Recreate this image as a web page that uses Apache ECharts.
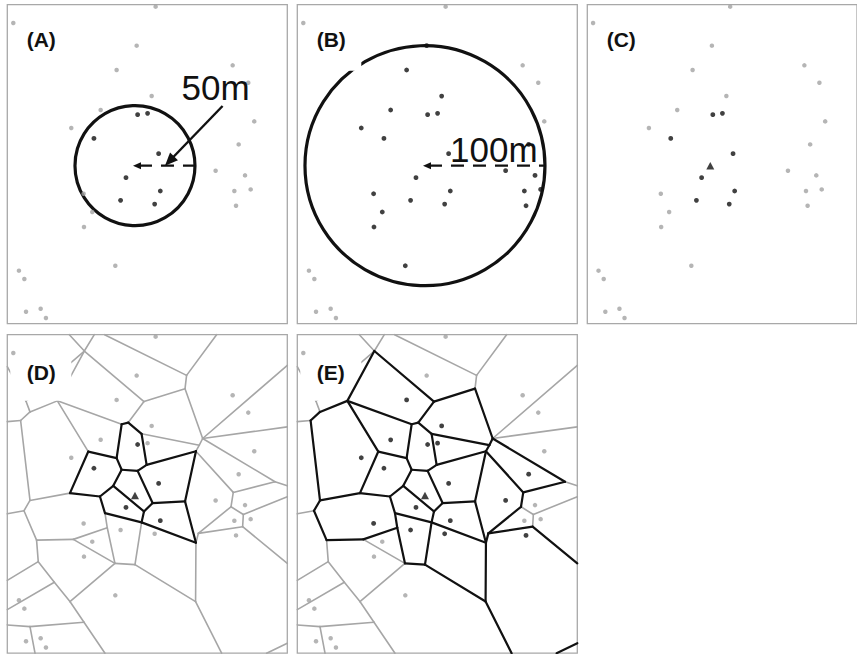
<!DOCTYPE html>
<html><head><meta charset="utf-8">
<script src="https://cdn.jsdelivr.net/npm/echarts@6/dist/echarts.min.js"></script>
<style>html,body{margin:0;padding:0;background:#fff}#c{width:857px;height:654px}</style>
</head><body><div id="c"></div>
<script>
// ---- data (metres; x to the right, y upward; panel extent 233.3 x 265.8 m) ----
const pointX = [108.6,116.9,72.2,126.1,98.9,127.5,94.4,122.8,
  5.0,123.6,107.8,91.1,187.8,200.8,120.3,77.8,53.3,205.8,192.8,173.6,198.1,189.2,202.8,190.6,
  63.6,70.8,63.9,90.0,9.7,14.2,15.6,27.8,32.2];
const pointY = [174.2,175.3,154.4,141.7,121.7,110.6,102.8,99.7,
  250.6,264.2,231.7,211.4,215.3,200.8,189.7,178.1,163.1,168.6,149.4,127.5,123.6,110.6,111.9,98.3,
  108.3,93.1,80.6,48.3,44.2,37.2,10.0,12.5,4.7];
const focalXY = [106.4, 131.7];
const FOCAL_ID = 33;

const within50 = [0,1,2,3,4,5,6,7];
const within100 = [0,1,2,3,4,5,6,7,10,11,14,15,16,18,19,20,21,22,23,24,25,26,27];
const nearest8 = [0,1,2,3,4,5,6,7];
const voronoiOrder1 = [0,2,3,4,5];
const voronoiOrder2 = [0,1,2,3,4,5,6,7,11,14,15,16,18,19,23,24];
const radiusA = 50, radiusB = 100;
const labelA = '50m', labelB = '100m';
const panelLabels = ['(A)','(B)','(C)','(D)','(E)'];
const pointerTail = [179.4, 181.4];

// Voronoi tessellation vertices (metres)
const vertexX = [64.2,51.7,72.5,113.9,41.7,81.1,149.4,174.4,148.1,162.8,233.33,233.33,223.1,160.0,157.2,111.9,100.8,95.3,91.1,67.5,
  95.3,108.6,116.1,121.1,148.1,188.3,233.33,186.4,196.7,233.33,196.1,233.33,159.2,157.2,156.9,178.6,233.33,216.1,113.9,88.3,
  111.9,81.4,77.2,52.2,83.3,106.4,89.7,55.0,18.9,13.9,0,24.4,25.8,0,52.2,39.2,0,81.4,63.9,18.9,0,23.1,18.9,15.6,0,11.1,0];
const vertexY = [252.2,265.83,265.83,210.0,210.6,265.83,231.9,265.83,220.8,179.2,240.3,188.9,143.1,173.6,168.6,183.1,192.5,191.1,162.8,168.3,
  153.1,152.2,157.2,125.3,126.7,134.2,139.7,122.2,115.8,130.6,105.6,75.0,100.0,92.2,43.1,0,8.3,0,118.3,139.7,
  109.2,116.9,130.8,133.6,104.7,73.9,75.0,95.0,127.5,118.9,116.4,94.4,76.4,60.8,43.1,59.2,36.4,0,25.8,22.2,23.6,0,201.4,210.3,239.2,194.2,193.3];
// edges: vertex pair + the two sites they separate (-1 = site not shown, 33 = focal)
const edgeFrom = [0,0,0,0,0,5,6,6,3,8,9,9,9,9,13,13,14,14,14,12,12,25,27,28,28,27,30,30,32,24,33,34,36,33,24,23,23,38,40,40,38,39,39,20,21,22,15,16,16,17,17,18,18,19,19,43,42,41,44,44,46,45,47,46,47,43,48,48,49,49,51,52,52,55,55,54,58,58,59,59,4,62,63,62,65];
const edgeTo   = [1,2,3,4,63,6,7,8,8,9,10,11,12,13,15,14,22,24,25,25,26,27,28,29,30,32,32,31,33,33,34,35,37,40,23,21,38,40,41,45,39,20,42,21,22,15,16,3,17,4,18,20,19,4,43,42,41,44,46,47,45,34,46,54,51,48,65,49,50,51,52,53,55,54,56,58,57,59,60,61,62,63,64,65,66];
const edgeSiteA = [8,-1,10,-1,8,9,9,10,10,14,12,13,17,14,14,1,1,3,18,18,17,19,20,20,21,19,21,22,19,19,7,27,23,5,3,33,33,4,4,6,33,33,2,33,0,0,0,11,0,11,0,0,15,15,16,2,4,24,25,24,6,7,25,26,24,16,-1,-1,-1,-1,-1,-1,26,26,28,29,31,29,29,30,-1,-1,8,-1,-1];
const edgeSiteB = [-1,10,11,11,-1,10,12,12,14,12,13,17,18,18,1,18,3,19,19,20,20,20,21,22,22,21,23,23,23,5,23,23,-1,7,5,3,5,5,6,7,4,2,4,0,3,1,14,14,11,15,15,2,2,16,2,24,24,6,6,25,27,27,26,27,26,24,16,24,-1,24,26,28,28,29,29,27,27,31,30,31,16,-1,-1,16,-1];

// ---- layout ----
const X_MAX = 233.33, Y_MAX = 265.83;
const panels = [
  {left:7.3, top:4.7, w:280, h:319},
  {left:297.3, top:4.7, w:280, h:319},
  {left:587.3, top:4.7, w:280, h:319},
  {left:7.3, top:334.7, w:280, h:318.5},
  {left:297.3, top:334.7, w:280, h:318.5}
];
const GRAY = '#a3a3a3', BLACK = '#111111';
const FONT = '"Liberation Sans", Arial, sans-serif';

const grid = panels.map(p => ({left:p.left, top:p.top, width:p.w, height:p.h, show:true,
  borderColor:'#a8a8a8', borderWidth:1.3, backgroundColor:'transparent'}));
const xAxis = panels.map((p,i) => ({gridIndex:i, type:'value', min:0, max:X_MAX, show:false}));
const yAxis = panels.map((p,i) => ({gridIndex:i, type:'value', min:0, max:Y_MAX, show:false}));

const series = [];
function pts(ids){ return ids.map(i => [pointX[i], pointY[i]]); }
function allBut(ids){ const s = new Set(ids); return pointX.map((_,i)=>i).filter(i=>!s.has(i)); }
function dots(idx, ids, color, size){
  series.push({type:'scatter', xAxisIndex:idx, yAxisIndex:idx, data:pts(ids), symbol:'circle',
    symbolSize:size, itemStyle:{color:color}, z:5, silent:true, animation:false});
}
function triangle(idx){
  series.push({type:'scatter', xAxisIndex:idx, yAxisIndex:idx, data:[focalXY], symbol:'triangle',
    symbolSize:[8,7.5], itemStyle:{color:BLACK}, z:6, silent:true, animation:false});
}
function circle(idx, r){
  series.push({type:'custom', xAxisIndex:idx, yAxisIndex:idx, data:[[focalXY[0], focalXY[1], r]], z:2, silent:true, animation:false,
    renderItem:(params, api) => {
      const c = api.coord([api.value(0), api.value(1)]);
      const rr = api.size([api.value(2), 0])[0];
      return {type:'circle', shape:{cx:c[0], cy:c[1], r:rr}, style:{fill:'none', stroke:BLACK, lineWidth:3.2}};
    }});
}
function radiusLine(idx, r){
  series.push({type:'custom', xAxisIndex:idx, yAxisIndex:idx, data:[[focalXY[0], focalXY[1], focalXY[0]+r, focalXY[1]]], z:5, silent:true, animation:false,
    renderItem:(params, api) => {
      const a = api.coord([api.value(0), api.value(1)]);
      const b = api.coord([api.value(2), api.value(3)]);
      return {type:'group', children:[
        {type:'line', shape:{x1:a[0]+4, y1:a[1], x2:b[0], y2:b[1]}, style:{stroke:BLACK, lineWidth:2.2, lineDash:[13,9]}},
        {type:'polygon', shape:{points:[[a[0]-2, a[1]], [a[0]+6, a[1]-3.5], [a[0]+6, a[1]+3.5]]}, style:{fill:BLACK}}
      ]};
    }});
}
function pointer(idx, r){
  series.push({type:'custom', xAxisIndex:idx, yAxisIndex:idx, data:[[pointerTail[0], pointerTail[1], focalXY[0]+r/2, focalXY[1]]], z:5, silent:true, animation:false,
    renderItem:(params, api) => {
      const a = api.coord([api.value(0), api.value(1)]);
      const b = api.coord([api.value(2), api.value(3)]);
      const dx = b[0]-a[0], dy = b[1]-a[1], L = Math.hypot(dx, dy);
      const ux = dx/L, uy = dy/L, hl = 13, hw = 5.5;
      const bx = b[0]-ux*hl, by = b[1]-uy*hl;
      return {type:'group', children:[
        {type:'line', shape:{x1:a[0], y1:a[1], x2:bx+ux*2, y2:by+uy*2}, style:{stroke:BLACK, lineWidth:2.4}},
        {type:'polygon', shape:{points:[[b[0], b[1]], [bx - uy*hw, by + ux*hw], [bx + uy*hw, by - ux*hw]]}, style:{fill:BLACK}}
      ]};
    }});
}
function voronoi(idx, highlight){
  const hs = new Set(highlight.concat([FOCAL_ID]));
  const grayData = [], blackData = [];
  edgeFrom.forEach((f, k) => {
    const t = edgeTo[k];
    const row = [vertexX[f], vertexY[f], vertexX[t], vertexY[t]];
    if (hs.has(edgeSiteA[k]) || hs.has(edgeSiteB[k])) blackData.push(row); else grayData.push(row);
  });
  const mk = (data, color, width, z) => ({type:'custom', xAxisIndex:idx, yAxisIndex:idx, data:data, z:z, silent:true, animation:false,
    encode:{x:[0,2], y:[1,3]},
    renderItem:(params, api) => {
      const a = api.coord([api.value(0), api.value(1)]);
      const b = api.coord([api.value(2), api.value(3)]);
      return {type:'line', shape:{x1:a[0], y1:a[1], x2:b[0], y2:b[1]}, style:{stroke:color, lineWidth:width, lineCap:'round'}};
    }});
  series.push(mk(grayData, '#a6a6a6', 1.6, 1));
  series.push(mk(blackData, BLACK, 2.2, 4));
}

// (A) within 50 m
dots(0, allBut(within50), GRAY, 4.5); dots(0, within50, BLACK, 4.8);
circle(0, radiusA); radiusLine(0, radiusA); pointer(0, radiusA);
// (B) within 100 m
dots(1, allBut(within100), GRAY, 4.5); dots(1, within100, BLACK, 4.8);
circle(1, radiusB); radiusLine(1, radiusB);
// (C) 8 nearest neighbours
dots(2, allBut(nearest8), GRAY, 4.5); dots(2, nearest8, BLACK, 4.8); triangle(2);
// (D) first-order Voronoi neighbours
voronoi(3, voronoiOrder1);
dots(3, allBut(voronoiOrder1), GRAY, 4.5); dots(3, voronoiOrder1, BLACK, 4.8); triangle(3);
// (E) second-order Voronoi neighbours
voronoi(4, voronoiOrder2);
dots(4, allBut(voronoiOrder2), GRAY, 4.5); dots(4, voronoiOrder2, BLACK, 4.8); triangle(4);

// ---- text / label backgrounds ----
const graphic = [];
panels.forEach((p, i) => {
  graphic.push({type:'rect', left:null, x:p.left+3, y:p.top+22, shape:{x:0, y:0, width:61, height:44},
    style:{fill:'#ffffff'}, z:3, silent:true});
  graphic.push({type:'text', x:p.left+19.4, y:p.top + (i < 3 ? 34.5 : 37.7),
    style:{text:panelLabels[i], fontSize:21, fontWeight:'bold', fontFamily:FONT, fill:BLACK, align:'left', verticalAlign:'middle'}, z:10, silent:true});
});
graphic.push({type:'text', x:181.5, y:87.5, style:{text:labelA, fontSize:35, fontFamily:FONT, fill:BLACK, align:'left', verticalAlign:'middle'}, z:10, silent:true});
graphic.push({type:'text', x:450, y:149.5, style:{text:labelB, fontSize:35, fontFamily:FONT, fill:BLACK, align:'left', verticalAlign:'middle'}, z:10, silent:true});

const chart = echarts.init(document.getElementById('c'), null, {renderer:'svg'});
chart.setOption({animation:false, backgroundColor:'#ffffff', grid, xAxis, yAxis, series, graphic});
</script>
</body></html>
